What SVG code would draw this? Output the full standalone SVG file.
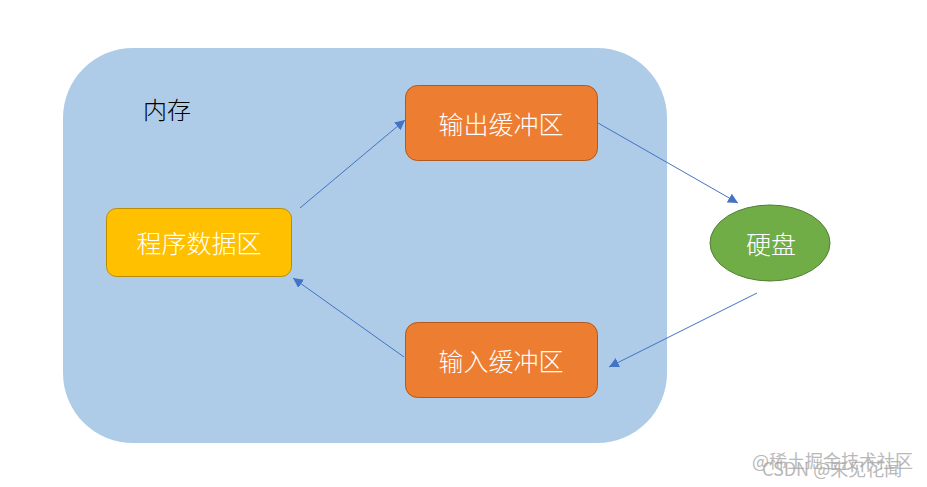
<svg xmlns="http://www.w3.org/2000/svg" width="927" height="487" viewBox="0 0 927 487">
<style>
.lbl{font-family:"Noto Sans CJK SC","Liberation Sans",sans-serif;font-size:25px;font-weight:300;fill:#ffffff;text-anchor:middle;dominant-baseline:central}
.conn{stroke:#4472c4;stroke-width:1;fill:none;marker-end:url(#ah)}
.wm{font-family:"Noto Sans CJK SC","Liberation Sans",sans-serif;font-size:18px;fill:#a8a8a8;opacity:0.8}
</style>
<defs>
<marker id="ah" viewBox="0 0 10 10" refX="10" refY="5" markerWidth="10" markerHeight="10" markerUnits="userSpaceOnUse" orient="auto">
<path d="M0,0 L10,5 L0,10 z" fill="#4472c4"/>
</marker>
</defs>
<rect width="927" height="487" fill="#ffffff"/>
<g id="memory">
<rect x="63" y="48" width="604" height="395" rx="70" ry="70" fill="#aecce8"/>
<text x="143" y="108" font-family="'Noto Sans CJK SC','Liberation Sans',sans-serif" font-size="24" font-weight="300" fill="#000" dominant-baseline="central">内存</text>
</g>
<g id="output-buffer">
<rect x="405.5" y="85.5" width="192" height="75" rx="12" fill="#ed7d31" stroke="#ae5a21"/>
<text class="lbl" x="501" y="123">输出缓冲区</text>
</g>
<g id="input-buffer">
<rect x="405.5" y="322.5" width="192" height="75" rx="12" fill="#ed7d31" stroke="#ae5a21"/>
<text class="lbl" x="501" y="360">输入缓冲区</text>
</g>
<g id="program-data">
<rect x="106.5" y="208.5" width="185" height="68" rx="10" fill="#ffc000" stroke="#bc8c00"/>
<text class="lbl" x="199" y="242">程序数据区</text>
</g>
<g id="disk">
<ellipse cx="770" cy="243" rx="60" ry="38" fill="#70ad47" stroke="#507e32"/>
<text class="lbl" x="771" y="243">硬盘</text>
</g>
<g id="connectors">
<line class="conn" x1="300" y1="208" x2="405" y2="120"/>
<line class="conn" x1="598" y1="123" x2="738" y2="203"/>
<line class="conn" x1="757" y1="293" x2="609" y2="367"/>
<line class="conn" x1="404" y1="357" x2="293" y2="278"/>
</g>
<g id="watermark">
<text class="wm" x="752" y="468">@稀土掘金技术社区</text>
<text class="wm" x="762" y="476">CSDN @来见花闻</text>
</g>
</svg>
